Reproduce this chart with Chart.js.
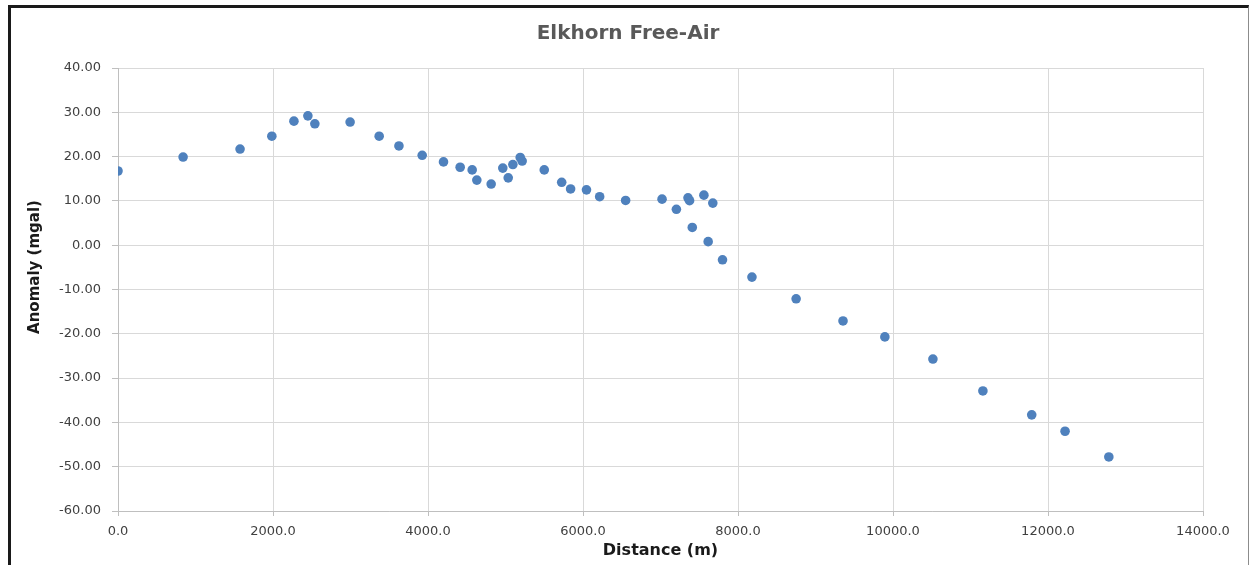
<!DOCTYPE html>
<html>
<head>
<meta charset="utf-8">
<title>Elkhorn Free-Air</title>
<script src="https://cdn.jsdelivr.net/npm/chart.js@4.4.1/dist/chart.umd.min.js"></script>
<style>
  html, body { margin: 0; padding: 0; background: #fff; overflow: hidden; }
  #frame {
    position: absolute; left: 8px; top: 5px; width: 1237px; height: 600px;
    border-top: 3px solid #1a1a1a; border-left: 3px solid #1a1a1a; border-right: 1px solid #8c8c8c;
  }
  #chart { position: absolute; left: 0; top: 0; }
</style>
</head>
<body>
<div id="frame"></div>
<canvas id="chart" width="1249" height="565"></canvas>
<script>
// Station distance along the profile (m) and free-air anomaly (mgal)
const distance = [0, 840, 1575, 1985, 2270, 2450, 2540, 2995, 3370, 3625, 3925, 4200, 4415, 4570, 4630,
    4815, 4965, 5035, 5095, 5190, 5215, 5500, 5725, 5840, 6045, 6215, 6550, 7020, 7205, 7355,
    7375, 7410, 7560, 7615, 7675, 7800, 8180, 8750, 9355, 9895, 10515, 11160, 11790, 12220, 12785];
const anomaly = [16.75, 19.9, 21.7, 24.6, 28.0, 29.2, 27.4, 27.8, 24.6, 22.4, 20.3, 18.8, 17.6, 17.0, 14.7,
    13.8, 17.4, 15.2, 18.2, 19.8, 19.0, 17.0, 14.2, 12.7, 12.5, 10.95, 10.1, 10.4, 8.1, 10.7,
    10.05, 4.0, 11.3, 0.8, 9.5, -3.3, -7.2, -12.1, -17.1, -20.7, -25.7, -32.9, -38.3, -42.0, -47.8];

const xTicks = [0, 2000, 4000, 6000, 8000, 10000, 12000, 14000];
const yTicks = [-60, -50, -40, -30, -20, -10, 0, 10, 20, 30, 40];

const points = distance.map((d, i) => ({ x: d, y: anomaly[i] }));

// vertical axis title, placed by hand like the spreadsheet does
const yTitlePlugin = {
    id: 'yTitle',
    afterDraw(chart) {
        const ctx = chart.ctx;
        ctx.save();
        ctx.translate(35, 267);
        ctx.rotate(-Math.PI / 2);
        ctx.font = 'bold 15px "DejaVu Sans"';
        ctx.fillStyle = '#1a1a1a';
        ctx.textAlign = 'center';
        ctx.textBaseline = 'middle';
        ctx.fillText('Anomaly (mgal)', 0, 0);
        ctx.restore();
    }
};

new Chart(document.getElementById('chart'), {
    type: 'scatter',
    data: {
        datasets: [{
            label: 'Free-Air',
            data: points,
            backgroundColor: '#4f81bd',
            borderColor: '#4f81bd',
            borderWidth: 0,
            pointRadius: 4.8,
            pointHoverRadius: 4.8
        }]
    },
    options: {
        responsive: false,
        animation: false,
        // left/right padding keep the title centred on the frame
        layout: { padding: { left: 53, right: 46, top: 10, bottom: 0 } },
        plugins: {
            legend: { display: false },
            tooltip: { enabled: false },
            title: {
                display: true,
                text: 'Elkhorn Free-Air',
                color: '#595959',
                font: { family: 'DejaVu Sans', size: 20, weight: 'bold', lineHeight: 1.2 },
                padding: { top: 12, bottom: 22 }
            }
        },
        scales: {
            x: {
                type: 'linear',
                min: 0,
                max: 14000,
                afterBuildTicks: (scale) => { scale.ticks = xTicks.map(v => ({ value: v })); },
                afterFit: (scale) => { scale.height = 54; },
                grid: { color: '#d9d9d9', tickColor: '#bfbfbf', tickLength: 5 },
                border: { color: '#bfbfbf' },
                ticks: {
                    color: '#404040',
                    padding: 8,
                    maxRotation: 0,
                    font: { family: 'DejaVu Sans', size: 13 },
                    callback: (v) => v.toFixed(1)
                },
                title: {
                    display: true,
                    text: 'Distance (m)',
                    color: '#1a1a1a',
                    font: { family: 'DejaVu Sans', size: 16, weight: 'bold', lineHeight: 1.2 },
                    padding: { top: 0, bottom: 5 }
                }
            },
            y: {
                type: 'linear',
                min: -60,
                max: 40,
                afterBuildTicks: (scale) => { scale.ticks = yTicks.map(v => ({ value: v })); },
                afterFit: (scale) => { scale.width = 65; },
                grid: { color: '#d9d9d9', tickColor: '#bfbfbf', tickLength: 6 },
                border: { color: '#bfbfbf' },
                ticks: {
                    color: '#404040',
                    padding: 11,
                    font: { family: 'DejaVu Sans', size: 13 },
                    callback: (v) => v.toFixed(2)
                }
            }
        }
    },
    plugins: [yTitlePlugin]
});
</script>
</body>
</html>
